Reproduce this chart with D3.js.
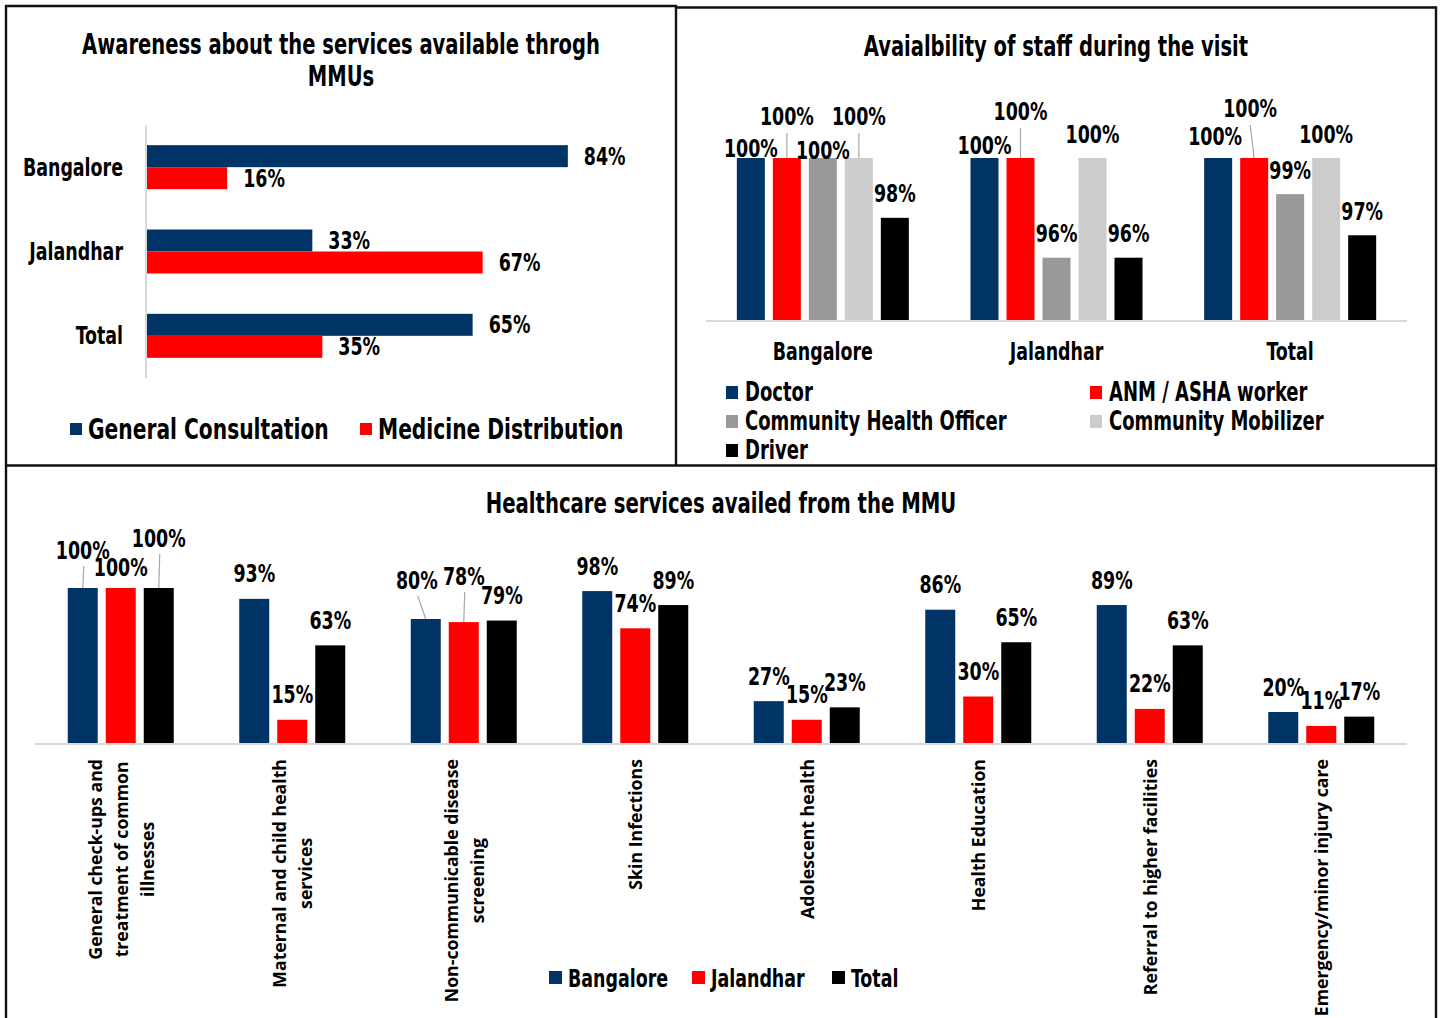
<!DOCTYPE html>
<html>
<head>
<meta charset="utf-8">
<script src="https://cdn.jsdelivr.net/npm/d3@7"></script>
<style>
  html, body { margin: 0; padding: 0; background: #fff; }
  svg { display: block; }
</style>
</head>
<body>
<svg id="chart" width="1440" height="1018"></svg>
<script>
// ---------- Awareness about the services available through MMUs ----------
const awarenessCities = ["Bangalore", "Jalandhar", "Total"];
const awarenessSeries = ["General Consultation", "Medicine Distribution"];
const generalConsultation = [0.84, 0.33, 0.65];
const medicineDistribution = [0.16, 0.67, 0.35];

// ---------- Availability of staff during the visit ----------
const staffCities = ["Bangalore", "Jalandhar", "Total"];
const staffRoles = ["Doctor", "ANM / ASHA worker", "Community Health Officer", "Community Mobilizer", "Driver"];
const doctorAvail = [1, 1, 1];
const anmAvail = [1, 1, 1];
const choAvail = [1, 0.96, 0.9855];
const mobilizerAvail = [1, 1, 1];
const driverAvail = [0.976, 0.96, 0.969];

// ---------- Healthcare services availed from the MMU ----------
const services = [
  "General check-ups and\ntreatment of common\nillnesses",
  "Maternal and child health\nservices",
  "Non-communicable disease\nscreening",
  "Skin Infections",
  "Adolescent health",
  "Health Education",
  "Referral to higher facilities",
  "Emergency/minor injury care"
];
const serviceSeries = ["Bangalore", "Jalandhar", "Total"];
const bangaloreAvailed = [1.00, 0.93, 0.80, 0.98, 0.27, 0.86, 0.89, 0.20];
const jalandharAvailed = [1.00, 0.15, 0.78, 0.74, 0.15, 0.30, 0.22, 0.11];
const totalAvailed     = [1.00, 0.63, 0.79, 0.89, 0.23, 0.65, 0.63, 0.17];

// ---------- styling ----------
const NARROW = '"Liberation Sans Narrow", "DejaVu Sans Condensed", "DejaVu Sans", sans-serif';
const WIDE = '"Open Sans", "DejaVu Sans", sans-serif';
const SQUEEZE = 0.775;   // horizontal condensing of the chart lettering
const NAVY = "#003366", RED = "#FF0000", MID_GREY = "#999999", LIGHT_GREY = "#CCCCCC", BLACK = "#000000";
const AXIS_GREY = "#D9D9D9", LEADER_GREY = "#A6A6A6";
const pct = d3.format(".0%");

const svg = d3.select("#chart");
svg.append("rect").attr("width", 1440).attr("height", 1018).attr("fill", "#fff");

function label(g, x, y, text, size, anchor = "middle", family = NARROW) {
  const t = g.append("text")
    .attr("x", x).attr("y", y)
    .attr("text-anchor", anchor)
    .attr("dominant-baseline", "central")
    .attr("font-family", family)
    .attr("font-weight", "bold")
    .attr("font-size", size)
    .attr("fill", "#000")
    .text(text);
  if (family === NARROW) {
    const w = t.node().getComputedTextLength();
    t.attr("textLength", w * SQUEEZE).attr("lengthAdjust", "spacingAndGlyphs");
  }
  return t;
}

// ---------- panel frames ----------
const frames = svg.append("g").attr("stroke", "#111").attr("stroke-width", 2.4).attr("fill", "none");
frames.append("path").attr("d", "M6,1018 V6 H676 V465");
frames.append("path").attr("d", "M676,7.5 H1436 V1018");
frames.append("path").attr("d", "M6,465.5 H1436");

// =====================================================================
// Chart 1: horizontal grouped bars
// =====================================================================
{
  const g = svg.append("g");
  const table = awarenessCities.map((c, i) => ({
    city: c,
    values: [generalConsultation[i], medicineDistribution[i]]
  }));
  const colors = d3.scaleOrdinal().domain(awarenessSeries).range([NAVY, RED]);

  const y0 = d3.scaleBand().domain(awarenessCities).range([125, 378]);
  const groupH = 44;
  const y1 = d3.scaleBand().domain(awarenessSeries).range([0, groupH]);
  const x = d3.scaleLinear().domain([0, 1]).range([147, 648]);

  label(g, 341, 44, "Awareness about the services available throgh", 28);
  label(g, 341, 76, "MMUs", 28);

  g.append("line").attr("x1", 146).attr("x2", 146).attr("y1", 125).attr("y2", 378)
    .attr("stroke", AXIS_GREY).attr("stroke-width", 2);

  table.forEach(row => {
    const gy = y0(row.city) + (y0.bandwidth() - groupH) / 2;
    label(g, 123, gy + groupH / 2, row.city, 25, "end");
    row.values.forEach((v, k) => {
      const s = awarenessSeries[k];
      g.append("rect")
        .attr("x", x(0)).attr("y", gy + y1(s))
        .attr("width", x(v) - x(0)).attr("height", y1.bandwidth())
        .attr("fill", colors(s));
      label(g, x(v) + 16, gy + y1(s) + y1.bandwidth() / 2, pct(v), 25, "start");
    });
  });

  // legend
  const legendX = [70, 360];
  awarenessSeries.forEach((s, k) => {
    g.append("rect").attr("x", legendX[k]).attr("y", 423).attr("width", 12).attr("height", 12)
      .attr("fill", colors(s));
    label(g, legendX[k] + 18, 429, s, 29, "start");
  });
}

// =====================================================================
// Chart 2: staff availability (grouped columns)
// =====================================================================
{
  const g = svg.append("g");
  const seriesValues = [doctorAvail, anmAvail, choAvail, mobilizerAvail, driverAvail];
  const colors = d3.scaleOrdinal().domain(staffRoles).range([NAVY, RED, MID_GREY, LIGHT_GREY, BLACK]);

  const x0 = d3.scaleBand().domain(staffCities).range([706, 1407]);
  const groupW = 172;
  const x1 = d3.scaleBand().domain(staffRoles).range([0, groupW]).paddingInner(8 / 36);
  const y = d3.scaleLinear().domain([0.935, 1]).range([320, 158]);

  // data-label placement tweaks, [city][role]: dx, dy from bar top, leader line
  const nudges = [
    [{ dy: -10 }, { dy: -42, leader: true }, { dy: -8 }, { dy: -42, leader: true }, {}],
    [{ dy: -13 }, { dy: -47, leader: true }, {}, {}, {}],
    [{ dx: -3, dy: -22 }, { dx: -4, dy: -50, leader: true }, {}, {}, {}]
  ];

  label(g, 1056, 46, "Avaialbility of staff during the visit", 28);

  staffCities.forEach((c, i) => {
    const gx = x0(c) + (x0.bandwidth() - groupW) / 2;
    staffRoles.forEach((r, k) => {
      const v = seriesValues[k][i];
      const bx = gx + x1(r);
      g.append("rect")
        .attr("x", bx).attr("y", y(v))
        .attr("width", x1.bandwidth()).attr("height", y(0.935) - y(v))
        .attr("fill", colors(r));
    });
  });

  g.append("line").attr("x1", 706).attr("x2", 1407).attr("y1", 321).attr("y2", 321)
    .attr("stroke", AXIS_GREY).attr("stroke-width", 2);

  staffCities.forEach((c, i) => {
    const gx = x0(c) + (x0.bandwidth() - groupW) / 2;
    staffRoles.forEach((r, k) => {
      const v = seriesValues[k][i];
      const cx = gx + x1(r) + x1.bandwidth() / 2;
      const n = nudges[i][k];
      const lx = cx + (n.dx || 0);
      const ly = y(v) + (n.dy === undefined ? -24 : n.dy);
      if (n.leader) {
        g.append("line").attr("x1", lx).attr("y1", ly + 17).attr("x2", cx).attr("y2", y(v))
          .attr("stroke", LEADER_GREY).attr("stroke-width", 1.2);
      }
      label(g, lx, ly, pct(v), 25);
    });
    label(g, x0(c) + x0.bandwidth() / 2, 351, c, 25);
  });

  // legend (two columns)
  const legendPos = [[726, 392], [1090, 392], [726, 421], [1090, 421], [726, 450]];
  staffRoles.forEach((r, k) => {
    const [lx, ly] = legendPos[k];
    g.append("rect").attr("x", lx).attr("y", ly - 6).attr("width", 12).attr("height", 13)
      .attr("fill", colors(r));
    label(g, lx + 19, ly, r, 25.8, "start");
  });
}

// =====================================================================
// Chart 3: healthcare services availed (grouped columns)
// =====================================================================
{
  const g = svg.append("g");
  const seriesValues = [bangaloreAvailed, jalandharAvailed, totalAvailed];
  const colors = d3.scaleOrdinal().domain(serviceSeries).range([NAVY, RED, BLACK]);

  const x0 = d3.scaleBand().domain(services).range([35, 1407]);
  const groupW = 106;
  const x1 = d3.scaleBand().domain(serviceSeries).range([0, groupW]).paddingInner(8 / 38);
  const y = d3.scaleLinear().domain([0, 1]).range([743, 588]);

  // data-label placement tweaks, "service-series"
  const nudges = {
    "0-0": { dy: -38, leader: true },
    "0-1": { dy: -21 },
    "0-2": { dy: -50, leader: true },
    "2-0": { dx: -9, dy: -39, leader: true },
    "2-1": { dy: -46, leader: true }
  };

  label(g, 721, 503, "Healthcare services availed from the MMU", 28.2);

  services.forEach((s, i) => {
    const gx = x0(s) + (x0.bandwidth() - groupW) / 2;
    serviceSeries.forEach((ser, k) => {
      const v = seriesValues[k][i];
      g.append("rect")
        .attr("x", gx + x1(ser)).attr("y", y(v))
        .attr("width", x1.bandwidth()).attr("height", y(0) - y(v))
        .attr("fill", colors(ser));
    });
  });

  g.append("line").attr("x1", 35).attr("x2", 1407).attr("y1", 744).attr("y2", 744)
    .attr("stroke", AXIS_GREY).attr("stroke-width", 2);

  services.forEach((s, i) => {
    const gx = x0(s) + (x0.bandwidth() - groupW) / 2;
    serviceSeries.forEach((ser, k) => {
      const v = seriesValues[k][i];
      const cx = gx + x1(ser) + x1.bandwidth() / 2;
      const n = nudges[i + "-" + k] || {};
      const lx = cx + (n.dx || 0);
      const ly = y(v) + (n.dy === undefined ? -25 : n.dy);
      if (n.leader) {
        g.append("line").attr("x1", lx + 1).attr("y1", ly + 16).attr("x2", cx).attr("y2", y(v))
          .attr("stroke", LEADER_GREY).attr("stroke-width", 1.2);
      }
      label(g, lx, ly, pct(v), 25);
    });

    // rotated, multi-line category label hanging below the axis
    const lines = s.split("\n");
    const cx = x0(s) + x0.bandwidth() / 2;
    const texts = lines.map(t => label(g, 0, 0, t, 17.7, "middle", WIDE));
    const longest = d3.max(texts, t => t.node().getComputedTextLength());
    const cy = 759 + longest / 2;
    texts.forEach((t, j) => {
      const lx = cx + (j - (lines.length - 1) / 2) * 26;
      t.attr("x", 0).attr("y", 0).attr("transform", `translate(${lx},${cy}) rotate(-90)`);
    });
  });

  // legend
  const legendX = [549, 692, 832];
  serviceSeries.forEach((ser, k) => {
    g.append("rect").attr("x", legendX[k]).attr("y", 971).attr("width", 13).attr("height", 13)
      .attr("fill", colors(ser));
    label(g, legendX[k] + 19, 978, ser, 25, "start");
  });
}
</script>
</body>
</html>
